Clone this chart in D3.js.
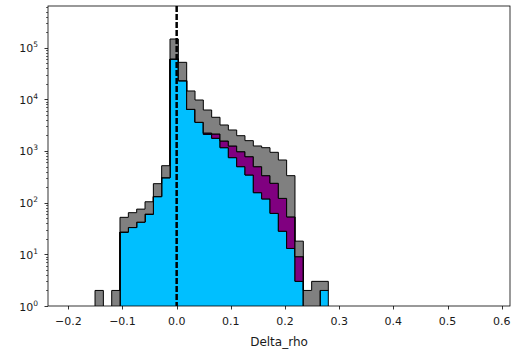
<!DOCTYPE html>
<html>
<head>
<meta charset="utf-8">
<script src="https://cdn.jsdelivr.net/npm/d3@7"></script>
<style>
  html, body { margin: 0; padding: 0; background: #fff; }
  svg { display: block; }
  text { font-family: "DejaVu Sans", sans-serif; fill: #1a1a1a; }
</style>
</head>
<body>
<svg id="chart" width="514" height="355"></svg>
<script>
// ---------- data ----------
const binEdges = [-0.1507, -0.1353, -0.1199, -0.1046, -0.0892, -0.0738, -0.0584, -0.0430,
  -0.0277, -0.0123, 0.0031, 0.0185, 0.0339, 0.0492, 0.0646, 0.0800, 0.0954, 0.1108,
  0.1261, 0.1415, 0.1569, 0.1723, 0.1877, 0.2030, 0.2184, 0.2338, 0.2492, 0.2646, 0.2799];
const cyanCounts   = [0, 0, 0, 27, 33, 42, 60, 131, 304, 60300, 22900, 6400, 3590, 2105, 1760,
  1158, 743, 497, 343, 156, 118, 62, 28, 13, 3, 0, 0, 2];
const purpleCounts = [0, 0, 0, 0, 0, 0, 0, 0, 0, 0, 0, 0, 0, 120, 373,
  402, 507, 472, 433, 341, 215, 175, 93, 40, 6, 0, 0, 0];
const greyCounts   = [2, 0, 2, 25, 31, 33, 44, 102, 215, 86700, 29100, 8100, 6110, 3985, 2357,
  1625, 1298, 1008, 809, 753, 825, 706, 548, 280, 9, 2, 3, 1];
const seriesKeys = ["cyan", "purple", "grey"];
const seriesColors = { cyan: "#00bfff", purple: "#800080", grey: "#808080" };
const xTicks = [-0.2, -0.1, 0.0, 0.1, 0.2, 0.3, 0.4, 0.5, 0.6];
const yMajorExp = [0, 1, 2, 3, 4, 5];
const xLabel = "Delta_rho";
const vlineX = 0.0;

// ---------- layout ----------
const svg = d3.select("#chart");
const L = 48, R = 510, T = 6, B = 306;

const x = d3.scaleLinear().domain([-0.2375, 0.6153]).range([L, R]);
const yMax = Math.pow(10, 5.806);
const y = d3.scaleLog().domain([1, yMax]).range([B, T]);

const rows = cyanCounts.map((c, i) => ({ cyan: c, purple: purpleCounts[i], grey: greyCounts[i] }));
const stacked = d3.stack().keys(seriesKeys)(rows);

svg.append("defs").append("clipPath").attr("id", "clip")
  .append("rect").attr("x", L).attr("y", T).attr("width", R - L).attr("height", B - T);

const plot = svg.append("g").attr("clip-path", "url(#clip)");
const yc = v => y(Math.max(v, 0.05));

stacked.forEach(layer => {
  const pts = [];
  layer.forEach((d, i) => {
    pts.push({ x: binEdges[i], y0: d[0], y1: d[1] });
    pts.push({ x: binEdges[i + 1], y0: d[0], y1: d[1] });
  });
  const area = d3.area().x(p => x(p.x)).y0(p => yc(p.y0)).y1(p => yc(p.y1));
  plot.append("path")
    .attr("d", area(pts) + "Z")
    .attr("fill", seriesColors[layer.key])
    .attr("stroke", "#000")
    .attr("stroke-width", 1)
    .attr("stroke-linejoin", "miter");
});

// dashed vertical line
plot.append("line")
  .attr("x1", x(vlineX)).attr("x2", x(vlineX))
  .attr("y1", T).attr("y2", B)
  .attr("stroke", "#000").attr("stroke-width", 2.5)
  .attr("stroke-dasharray", "6,2");

// ---------- axes ----------
const ax = svg.append("g");
const tickFont = 11;
// x ticks
xTicks.forEach(t => {
  const px = Math.round(x(t)) + 0.5;
  ax.append("line").attr("x1", px).attr("x2", px).attr("y1", B).attr("y2", B + 3.5)
    .attr("stroke", "#000").attr("stroke-width", 0.8);
  ax.append("text").attr("x", x(t)).attr("y", B + 19)
    .attr("text-anchor", "middle").attr("font-size", tickFont)
    .text(d3.format(".1f")(t).replace("-", "\u2212"));
});
// y major ticks
yMajorExp.forEach(e => {
  const py = Math.round(y(Math.pow(10, e))) + 0.5;
  ax.append("line").attr("x1", L - 3.5).attr("x2", L).attr("y1", py).attr("y2", py)
    .attr("stroke", "#000").attr("stroke-width", 0.8);
  const txt = ax.append("text").attr("x", L - 10).attr("y", y(Math.pow(10, e)) + 4.5)
    .attr("text-anchor", "end").attr("font-size", tickFont);
  txt.append("tspan").text("10");
  txt.append("tspan").attr("dy", -5).attr("font-size", 7.5).text(String(e));
});
// y minor ticks
for (let e = 0; e <= 5; e++) {
  for (let m = 2; m <= 9; m++) {
    const v = m * Math.pow(10, e);
    if (v > yMax) continue;
    const py = Math.round(y(v)) + 0.5;
    ax.append("line").attr("x1", L - 2).attr("x2", L).attr("y1", py).attr("y2", py)
      .attr("stroke", "#000").attr("stroke-width", 0.6);
  }
}
// frame
ax.append("rect").attr("x", L).attr("y", T).attr("width", R - L).attr("height", B - T)
  .attr("fill", "none").attr("stroke", "#000").attr("stroke-width", 0.8);

// x label
svg.append("text").attr("x", (L + R) / 2).attr("y", 346)
  .attr("text-anchor", "middle").attr("font-size", 12).text(xLabel);
</script>
</body>
</html>
